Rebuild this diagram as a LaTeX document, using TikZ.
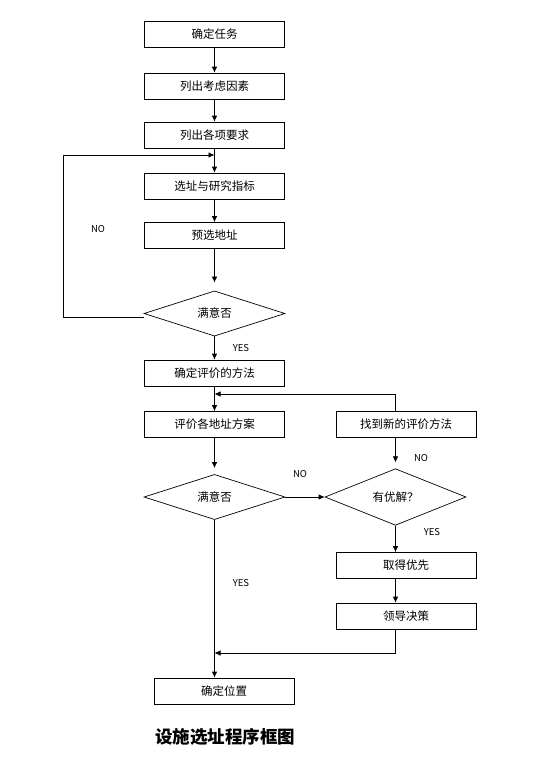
\documentclass[tikz,border=0pt]{standalone}
\usepackage{fontspec}
\setmainfont{Noto Sans CJK SC}
\usepackage{tikz}
\usetikzlibrary{shapes.geometric, arrows.meta}

\tikzset{
	box/.style={draw, line width=0.7pt, minimum width=140pt, minimum height=26pt, inner sep=0pt, font=\fontsize{11.5}{13}\selectfont},
	choice/.style={draw, diamond, line width=0.7pt, aspect=1, minimum width=141pt, minimum height=43pt, inner sep=0pt, font=\fontsize{11.5}{13}\selectfont},
	lab/.style={font=\fontsize{9.5}{11}\selectfont},
	arr/.style={-{Latex[length=6pt, width=5.5pt]}, line width=0.7pt},
}

\begin{document}
\begin{tikzpicture}[x=1pt, y=-1pt]
	\useasboundingbox (0,0) rectangle (536,761);

	% left column
	\node[box] (t1) at (214.5,34) {确定任务};
	\node[box] (t2) at (214.5,86) {列出考虑因素};
	\node[box] (t3) at (214.5,135) {列出各项要求};
	\node[box] (t4) at (214.5,186) {选址与研究指标};
	\node[box] (t5) at (214.5,235.5) {预选地址};
	\node[choice] (d1) at (214.5,313.5) {满意否};
	\node[box] (t6) at (214.5,373) {确定评价的方法};
	\node[box] (t7) at (214.5,424.5) {评价各地址方案};
	\node[choice] (d2) at (214.5,497) {满意否};
	\node[box] (t11) at (224,691) {确定位置};

	% right column
	\node[box] (t8) at (406,424.5) {找到新的评价方法};
	\node[choice] (d3) at (395.5,497) {有优解？};
	\node[box] (t9) at (406,565.5) {取得优先};
	\node[box] (t10) at (406,616) {领导决策};

	\coordinate (back1) at (63,155);
	\coordinate (back2) at (395.5,394);
	\coordinate (back3) at (395.5,653);

	\draw[arr] (t1) -- (t2);
	\draw[arr] (t2) -- (t3);
	\draw[arr] (t3) -- (t4);
	\draw[arr] (t4) -- (t5);
	\draw[arr, shorten >=8pt] (t5) -- (d1);
	\draw[arr] ([yshift=-4pt]d1.west) -| (back1) -- (back1 -| t3.south);
	\draw[arr] (d1) -- (t6);
	\draw[arr] (t6) -- (t7);
	\draw[arr, shorten >=6pt] (t7) -- (d2);
	\draw[arr] (d2.east) -- (d3.west);
	\draw[arr] (t8.north -| d3.north) -- (back2) -- (back2 -| t6.south);
	\draw[arr, shorten >=6pt] (t8.south -| d3.north) -- (d3.north);
	\draw[arr] (d3.south) -- (d3.south |- t9.north);
	\draw[arr] (t9.south -| d3.south) -- (t10.north -| d3.south);
	\draw[arr] (t10.south -| d3.south) -- (back3) -- (back3 -| d2.south);
	\draw[arr] (d2.south) -- (d2.south |- t11.north);

	\node[lab] (no1) at (98,229) {NO};
	\node[lab] (yes1) at (241,348) {YES};
	\node[lab] (no2) at (300,474) {NO};
	\node[lab] (no3) at (421,458) {NO};
	\node[lab] (yes2) at (432,532) {YES};
	\node[lab] (yes3) at (241,583) {YES};

	\node[font=\fontsize{17.5}{19}\selectfont\bfseries] (title) at (225,737) {设施选址程序框图};
\end{tikzpicture}
\end{document}
